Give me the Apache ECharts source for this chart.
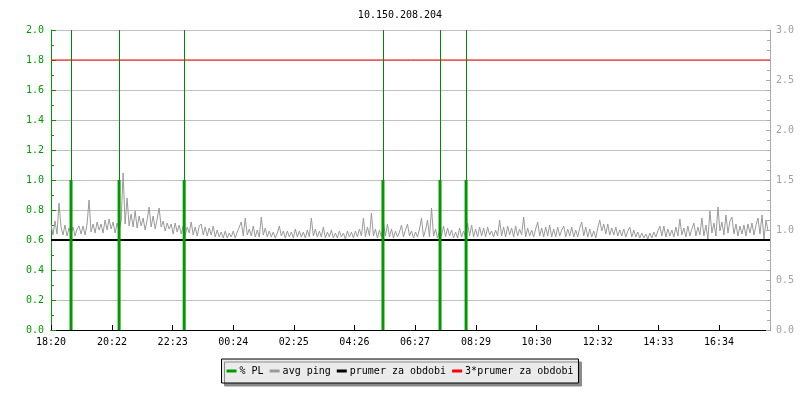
<!DOCTYPE html>
<html>
<head>
<meta charset="utf-8">
<script src="https://cdn.jsdelivr.net/npm/echarts@6/dist/echarts.min.js"></script>
<style>html,body{margin:0;padding:0;background:#fff}#c{width:800px;height:400px}</style>
</head>
<body>
<div id="c"></div>
<script>
const chartTitle = '10.150.208.204';
const tickLabels = ['18:20','20:22','22:23','00:24','02:25','04:26','06:27','08:29','10:30','12:32','14:33','16:34'];
const startLabel = '18:20';
const sampleStepMin = 4;
const spanMin = 1436;
const seriesNames = ['% PL', 'avg ping', 'prumer za obdobi', '3*prumer za obdobi'];
const avgPing = [
1.06,0.95,1.09,0.96,1.27, 1.03,0.95,1.05,0.94,1.02, 0.96,1.03,0.94,1.01,1.04,
0.96,1.04,0.95,1.06,1.30, 0.98,1.06,0.97,1.08,1.00, 1.06,0.97,1.10,1.00,1.11,
1.01,1.08,0.97,1.07,1.00, 1.09,1.57,1.06,1.32,1.04, 1.16,1.03,1.19,1.02,1.14,
1.04,1.12,1.00,1.10,1.23, 1.03,1.14,1.01,1.11,1.22, 1.03,1.09,0.99,1.07,1.01,
1.06,0.96,1.07,0.98,1.05, 0.96,1.04,0.95,1.03,0.97, 1.08,0.95,1.03,0.94,1.04,
1.06,0.95,1.03,0.94,1.02, 0.95,1.04,0.93,1.00,0.93, 0.98,0.92,0.99,0.92,0.97,
0.93,0.99,0.92,0.98,1.03, 1.08,0.94,1.12,0.95,1.01, 0.94,1.04,0.93,1.00,0.93,
1.13,0.95,1.02,0.93,0.99, 0.93,0.98,0.92,0.97,1.04, 0.94,0.99,0.92,0.99,0.93,
0.98,0.92,1.01,0.93,0.99, 0.93,0.98,0.92,1.00,0.93, 1.12,0.94,1.01,0.93,0.99,
0.93,1.03,0.92,0.98,0.93, 1.00,0.92,0.97,0.92,0.99, 0.93,0.97,0.91,0.99,0.93,
0.98,0.92,0.99,0.93,1.01, 0.94,1.12,0.93,1.03,0.94, 1.17,0.94,1.01,0.92,1.00,
0.93,1.07,0.94,1.06,0.93, 1.01,0.92,0.99,0.93,0.98, 1.05,0.93,1.00,1.06,0.94,
0.99,0.92,0.98,0.93,1.01, 1.12,0.93,1.00,1.10,0.93, 1.22,0.94,1.01,0.92,0.99,
0.94,1.04,0.93,1.02,0.94, 1.00,0.92,0.98,0.92,1.02, 0.93,0.99,0.93,1.07,0.94,
1.05,0.93,1.01,0.93,1.03, 0.94,1.02,0.93,1.03,0.95, 0.99,0.93,1.00,0.94,1.10,
0.94,1.03,0.93,1.04,0.95, 1.02,0.93,1.04,0.94,1.01, 0.95,1.13,0.93,1.02,0.94,
1.00,0.93,1.01,1.08,0.94, 1.02,0.93,1.03,0.94,1.05, 0.93,1.01,0.93,1.03,0.94,
1.00,1.04,0.93,1.01,0.94, 1.03,0.93,1.00,0.93,1.02, 1.08,0.94,1.03,0.93,1.01,
0.93,0.99,0.92,1.02,1.10, 0.99,1.06,0.96,1.06,0.95, 1.02,0.95,1.03,0.94,1.00,
0.94,1.01,0.93,0.99,1.03, 0.93,1.00,0.93,0.98,0.92, 0.97,0.92,0.96,0.91,0.97,
0.92,0.98,0.93,0.99,1.04, 0.94,1.04,0.93,1.01,0.94, 1.00,0.93,1.03,0.94,1.11,
0.95,1.02,0.93,1.04,0.94, 1.01,1.07,0.94,1.03,0.95, 1.12,0.94,1.05,0.91,1.19,
0.97,1.07,0.94,1.23,0.99, 1.08,0.95,1.15,0.97,1.09, 1.13,0.96,1.06,0.94,1.04,
0.96,1.05,0.94,1.06,0.97, 1.07,0.95,1.05,1.12,0.96, 1.15,0.91,1.10,0.99
];
const plTimesMin = [40, 136, 266, 663, 777, 829];
const plValues = [1.0, 1.0, 1.0, 1.0, 1.0, 1.0];
const periodAvg = 0.9;
const periodAvgTimes3 = 2.7;

function toMin(lbl) {
  const [h, m] = lbl.split(':').map(Number);
  const [h0, m0] = startLabel.split(':').map(Number);
  let d = h * 60 + m - (h0 * 60 + m0);
  if (d < 0) d += 1440;
  return d;
}
const tickMin = tickLabels.map(toMin);
const pingData = avgPing.map((v, i) => [i * sampleStepMin, v]);
const plData = plTimesMin.map((t, i) => [t, plValues[i]]);

const FONT = 'DejaVu Sans Mono';
const GREEN = '#009a00';
const chart = echarts.init(document.getElementById('c'), null, {renderer: 'canvas'});
chart.setOption({
  animation: false,
  backgroundColor: '#ffffff',
  title: {
    text: chartTitle, left: 'center', top: 5,
    textStyle: {fontFamily: FONT, fontSize: 10, fontWeight: 'normal', color: '#000'}
  },
  legend: {
    bottom: 17, left: 'center',
    data: seriesNames,
    icon: 'rect', itemWidth: 10, itemHeight: 3, itemGap: 6,
    padding: [7, 5],
    backgroundColor: '#ebebeb', borderColor: '#000', borderWidth: 1,
    shadowColor: '#8a8a8a', shadowBlur: 0, shadowOffsetX: 3, shadowOffsetY: 3,
    textStyle: {fontFamily: FONT, fontSize: 10, color: '#000', padding: [0, 0, 0, -2]}
  },
  grid: {left: 51, right: 30, top: 30, bottom: 70, containLabel: false},
  xAxis: {
    type: 'value', min: 0, max: spanMin,
    axisLine: {show: true, lineStyle: {color: '#000', width: 1}},
    axisTick: {show: true, inside: true, length: 5, customValues: tickMin, lineStyle: {color: '#000'}},
    axisLabel: {
      customValues: tickMin, color: '#000', fontFamily: FONT, fontSize: 10, margin: 7,
      formatter: v => { const i = tickMin.indexOf(v); return i >= 0 ? tickLabels[i] : ''; }
    },
    splitLine: {show: false}
  },
  yAxis: [
    {
      type: 'value', min: 0, max: 2.0, interval: 0.2,
      axisLine: {show: true, lineStyle: {color: GREEN, width: 1}},
      axisTick: {show: true, inside: true, length: 5, lineStyle: {color: GREEN}},
      minorTick: {show: true, splitNumber: 2, length: 3, lineStyle: {color: GREEN}},
      axisLabel: {color: GREEN, fontFamily: FONT, fontSize: 10, margin: 7, formatter: v => v.toFixed(1)},
      splitLine: {show: true, lineStyle: {color: '#c0c0c0', width: 1}}
    },
    {
      type: 'value', min: 0, max: 3.0, interval: 0.5, position: 'right',
      axisLine: {show: true, lineStyle: {color: '#aaaaaa', width: 1}},
      axisTick: {show: true, inside: true, length: 4, lineStyle: {color: '#aaaaaa'}},
      minorTick: {show: true, splitNumber: 5, length: 3, lineStyle: {color: '#aaaaaa'}},
      axisLabel: {color: '#a0a0a0', fontFamily: FONT, fontSize: 10, margin: 6, formatter: v => v.toFixed(1)},
      splitLine: {show: false}
    }
  ],
  series: [
    {
      name: seriesNames[0], type: 'bar', yAxisIndex: 0, barWidth: 3,
      itemStyle: {color: GREEN}, z: 5, data: plData,
      markLine: {
        silent: true, symbol: ['none', 'none'], label: {show: false},
        lineStyle: {color: '#008a00', width: 1, type: 'solid'},
        data: plTimesMin.map(t => ({xAxis: t}))
      }
    },
    {
      name: seriesNames[1], type: 'line', yAxisIndex: 1, data: pingData,
      symbol: 'none', lineStyle: {color: '#9a9a9a', width: 1}, itemStyle: {color: '#9a9a9a'}, z: 2
    },
    {
      name: seriesNames[2], type: 'line', yAxisIndex: 1,
      data: [[0, periodAvg], [spanMin, periodAvg]],
      symbol: 'none', lineStyle: {color: '#000', width: 2}, itemStyle: {color: '#000'}, z: 3
    },
    {
      name: seriesNames[3], type: 'line', yAxisIndex: 1,
      data: [[0, periodAvgTimes3], [spanMin, periodAvgTimes3]],
      symbol: 'none', lineStyle: {color: '#ff0000', width: 1}, itemStyle: {color: '#ff0000'}, z: 3
    }
  ]
});
</script>
</body>
</html>
